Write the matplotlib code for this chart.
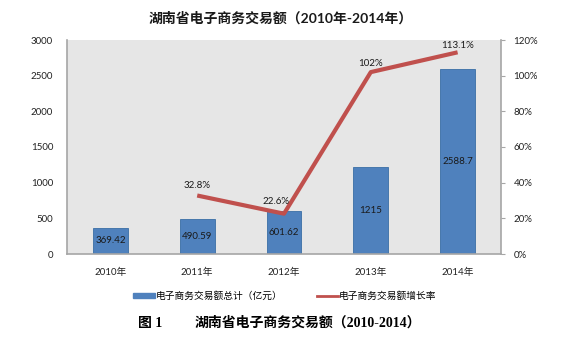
import numpy as np
import matplotlib
matplotlib.use("Agg")
import matplotlib.pyplot as plt
from matplotlib.lines import Line2D
from matplotlib.patches import Patch

plt.rcParams['font.family'] = ['Lato', 'Noto Sans CJK SC', 'DejaVu Sans']

# data
years = ["2010年", "2011年", "2012年", "2013年", "2014年"]
totals = [369.42, 490.59, 601.62, 1215, 2588.7]
total_labels = ["369.42", "490.59", "601.62", "1215", "2588.7"]
growth = [None, 32.8, 22.6, 102, 113.1]
growth_labels = ["", "32.8%", "22.6%", "102%", "113.1%"]

title = "湖南省电子商务交易额（2010年-2014年）"
bar_name = "电子商务交易额总计（亿元）"
line_name = "电子商务交易额增长率"

bar_color = "#4F81BD"
line_color = "#C0504D"
bg_color = "#E6E6E6"
axis_gray = "#A6A6A6"

fig = plt.figure(figsize=(5.69, 3.38), dpi=100)
ax = fig.add_axes([67 / 569, 1 - 254 / 338, 434 / 569, 214 / 338])
ax.set_facecolor(bg_color)

x = np.arange(len(years))
ax.bar(x, totals, width=0.4, color=bar_color, edgecolor="#3A6EA5", linewidth=0.6, zorder=2)
for xi, v, lab in zip(x, totals, total_labels):
    ax.text(xi, v / 2, lab, ha="center", va="center", fontsize=7, color="#1a1a1a", zorder=5)

ax.set_xlim(-0.5, len(years) - 0.5)
ax.set_ylim(0, 3000)
ax.set_yticks(np.arange(0, 3001, 500))
ax.set_xticks(x)
ax.set_xticklabels(years)
ax.tick_params(axis="y", length=0, labelsize=7, pad=10, colors="#222222")
ax.tick_params(axis="x", length=0, labelsize=7, pad=10, colors="#222222")
for s in ["top", "right"]:
    ax.spines[s].set_visible(False)
for s in ["left", "bottom"]:
    ax.spines[s].set_color(axis_gray)
    ax.spines[s].set_linewidth(1.2)

ax2 = ax.twinx()
gx = [xi for xi, g in zip(x, growth) if g is not None]
gy = [g for g in growth if g is not None]
ax2.plot(gx, gy, color=line_color, linewidth=3, solid_capstyle="butt", zorder=3)
ax2.set_ylim(0, 120)
ax2.set_yticks(np.arange(0, 121, 20))
ax2.set_yticklabels([f"{v}%" for v in range(0, 121, 20)])
ax2.tick_params(axis="y", length=3, labelsize=7, color=axis_gray, colors="#222222", pad=6)
ax2.tick_params(axis="y", color=axis_gray)
for s in ["top", "left", "bottom"]:
    ax2.spines[s].set_visible(False)
ax2.spines["right"].set_color(axis_gray)
ax2.spines["right"].set_linewidth(1.2)

# label offsets in points, relative to each line point
offsets = [(0, 0), (0, 7), (-6, 9), (0, 6), (0, 5)]
for xi, g, lab, off in zip(x, growth, growth_labels, offsets):
    if g is None:
        continue
    ax2.annotate(lab, (xi, g), xytext=off, textcoords="offset points",
                 ha="center", va="center", fontsize=7, color="#1a1a1a")

fig.text(281 / 569, 1 - 18 / 338, title, ha="center", va="center",
         fontsize=10, fontweight="bold", color="#1a1a1a")

handles = [Patch(facecolor=bar_color, edgecolor=bar_color),
           Line2D([0], [0], color=line_color, linewidth=2)]
fig.legend(handles, [bar_name, line_name], loc="center", bbox_to_anchor=(285 / 569, 1 - 296 / 338),
           ncol=2, frameon=False, fontsize=7, handlelength=2.2, handleheight=0.5,
           handletextpad=0.1, columnspacing=3.5)

cap_font = ['Liberation Serif', 'Noto Sans CJK SC']
fig.text(138 / 569, 1 - 323 / 338, "图 1", ha="left", va="center",
         fontsize=10, fontweight="bold", family=cap_font)
fig.text(195 / 569, 1 - 323 / 338, "湖南省电子商务交易额（2010-2014）", ha="left", va="center",
         fontsize=10, fontweight="bold", family=cap_font)

fig.savefig("out.png", dpi=100)
